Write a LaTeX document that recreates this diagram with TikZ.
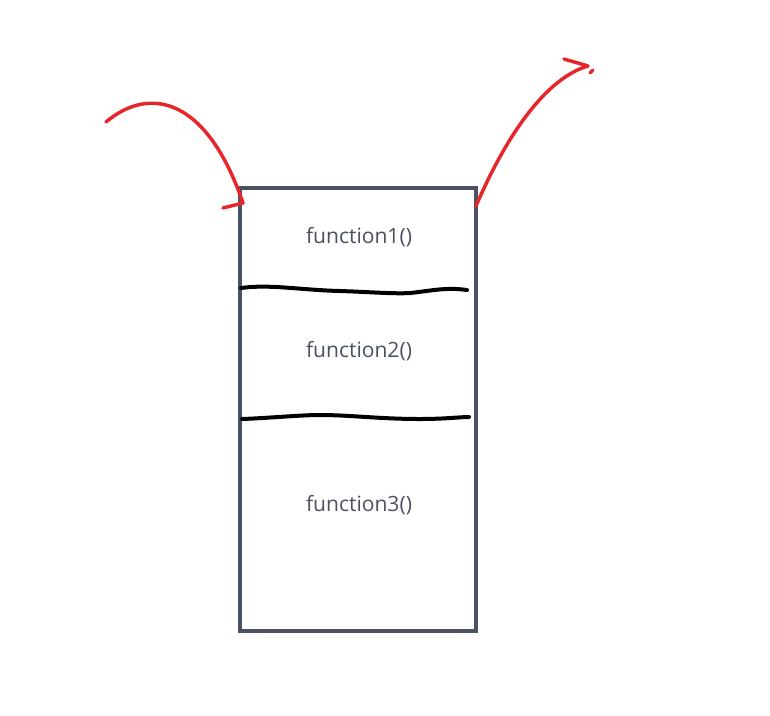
\documentclass[tikz,border=0pt]{standalone}
\usepackage{fontspec}
\setmainfont{Open Sans}
\definecolor{boxgray}{HTML}{4A5162}
\definecolor{penred}{HTML}{E6262A}
\begin{document}
\begin{tikzpicture}[x=0.75pt,y=-0.75pt,
  stackbox/.style={draw=boxgray,line width=2.4pt},
  divider/.style={draw=black,line width=3pt,line cap=round},
  redpen/.style={draw=penred,line width=2.6pt,line cap=round,line join=round},
  fname/.style={text=boxgray,font=\fontsize{15.8}{18}\selectfont,inner sep=0pt}]
\useasboundingbox (0,0) rectangle (770,715);
\fill[white] (0,0) rectangle (770,715);
\node[stackbox,minimum width=236*0.75pt,minimum height=443*0.75pt,inner sep=0pt] (stack) at (358,409.5) {};
\node[fname] (f1) at (359,237) {function1()};
\node[fname] (f2) at (359,351) {function2()};
\node[fname] (f3) at (359,505) {function3()};
\coordinate (d1a) at (241,288);
\coordinate (d1b) at (467,290);
\coordinate (d2a) at (242,419);
\coordinate (d2b) at (469,417);
\draw[divider] (d1a) .. controls (270,284) and (300,290) .. (340,291)
  .. controls (370,292) and (395,294) .. (410,293)
  .. controls (430,291) and (445,287) .. (d1b);
\draw[divider] (d2a) .. controls (270,418) and (300,415) .. (320,415)
  .. controls (350,415) and (380,419) .. (420,419)
  .. controls (445,419) and (460,417) .. (d2b);
% left arrow
\coordinate (la) at (106,122);
\coordinate (lt) at (243,203);
\draw[redpen] (la) .. controls (150,85) and (207,98) .. (lt) -- (223,208);
% right arrow
\coordinate (ra) at (476,206);
\coordinate (rt) at (588,66);
\draw[redpen] (ra) .. controls (500,150) and (540,80) .. (rt) -- (564,59);
\draw[redpen] (590,73) -- (593,70);
\end{tikzpicture}
\end{document}
